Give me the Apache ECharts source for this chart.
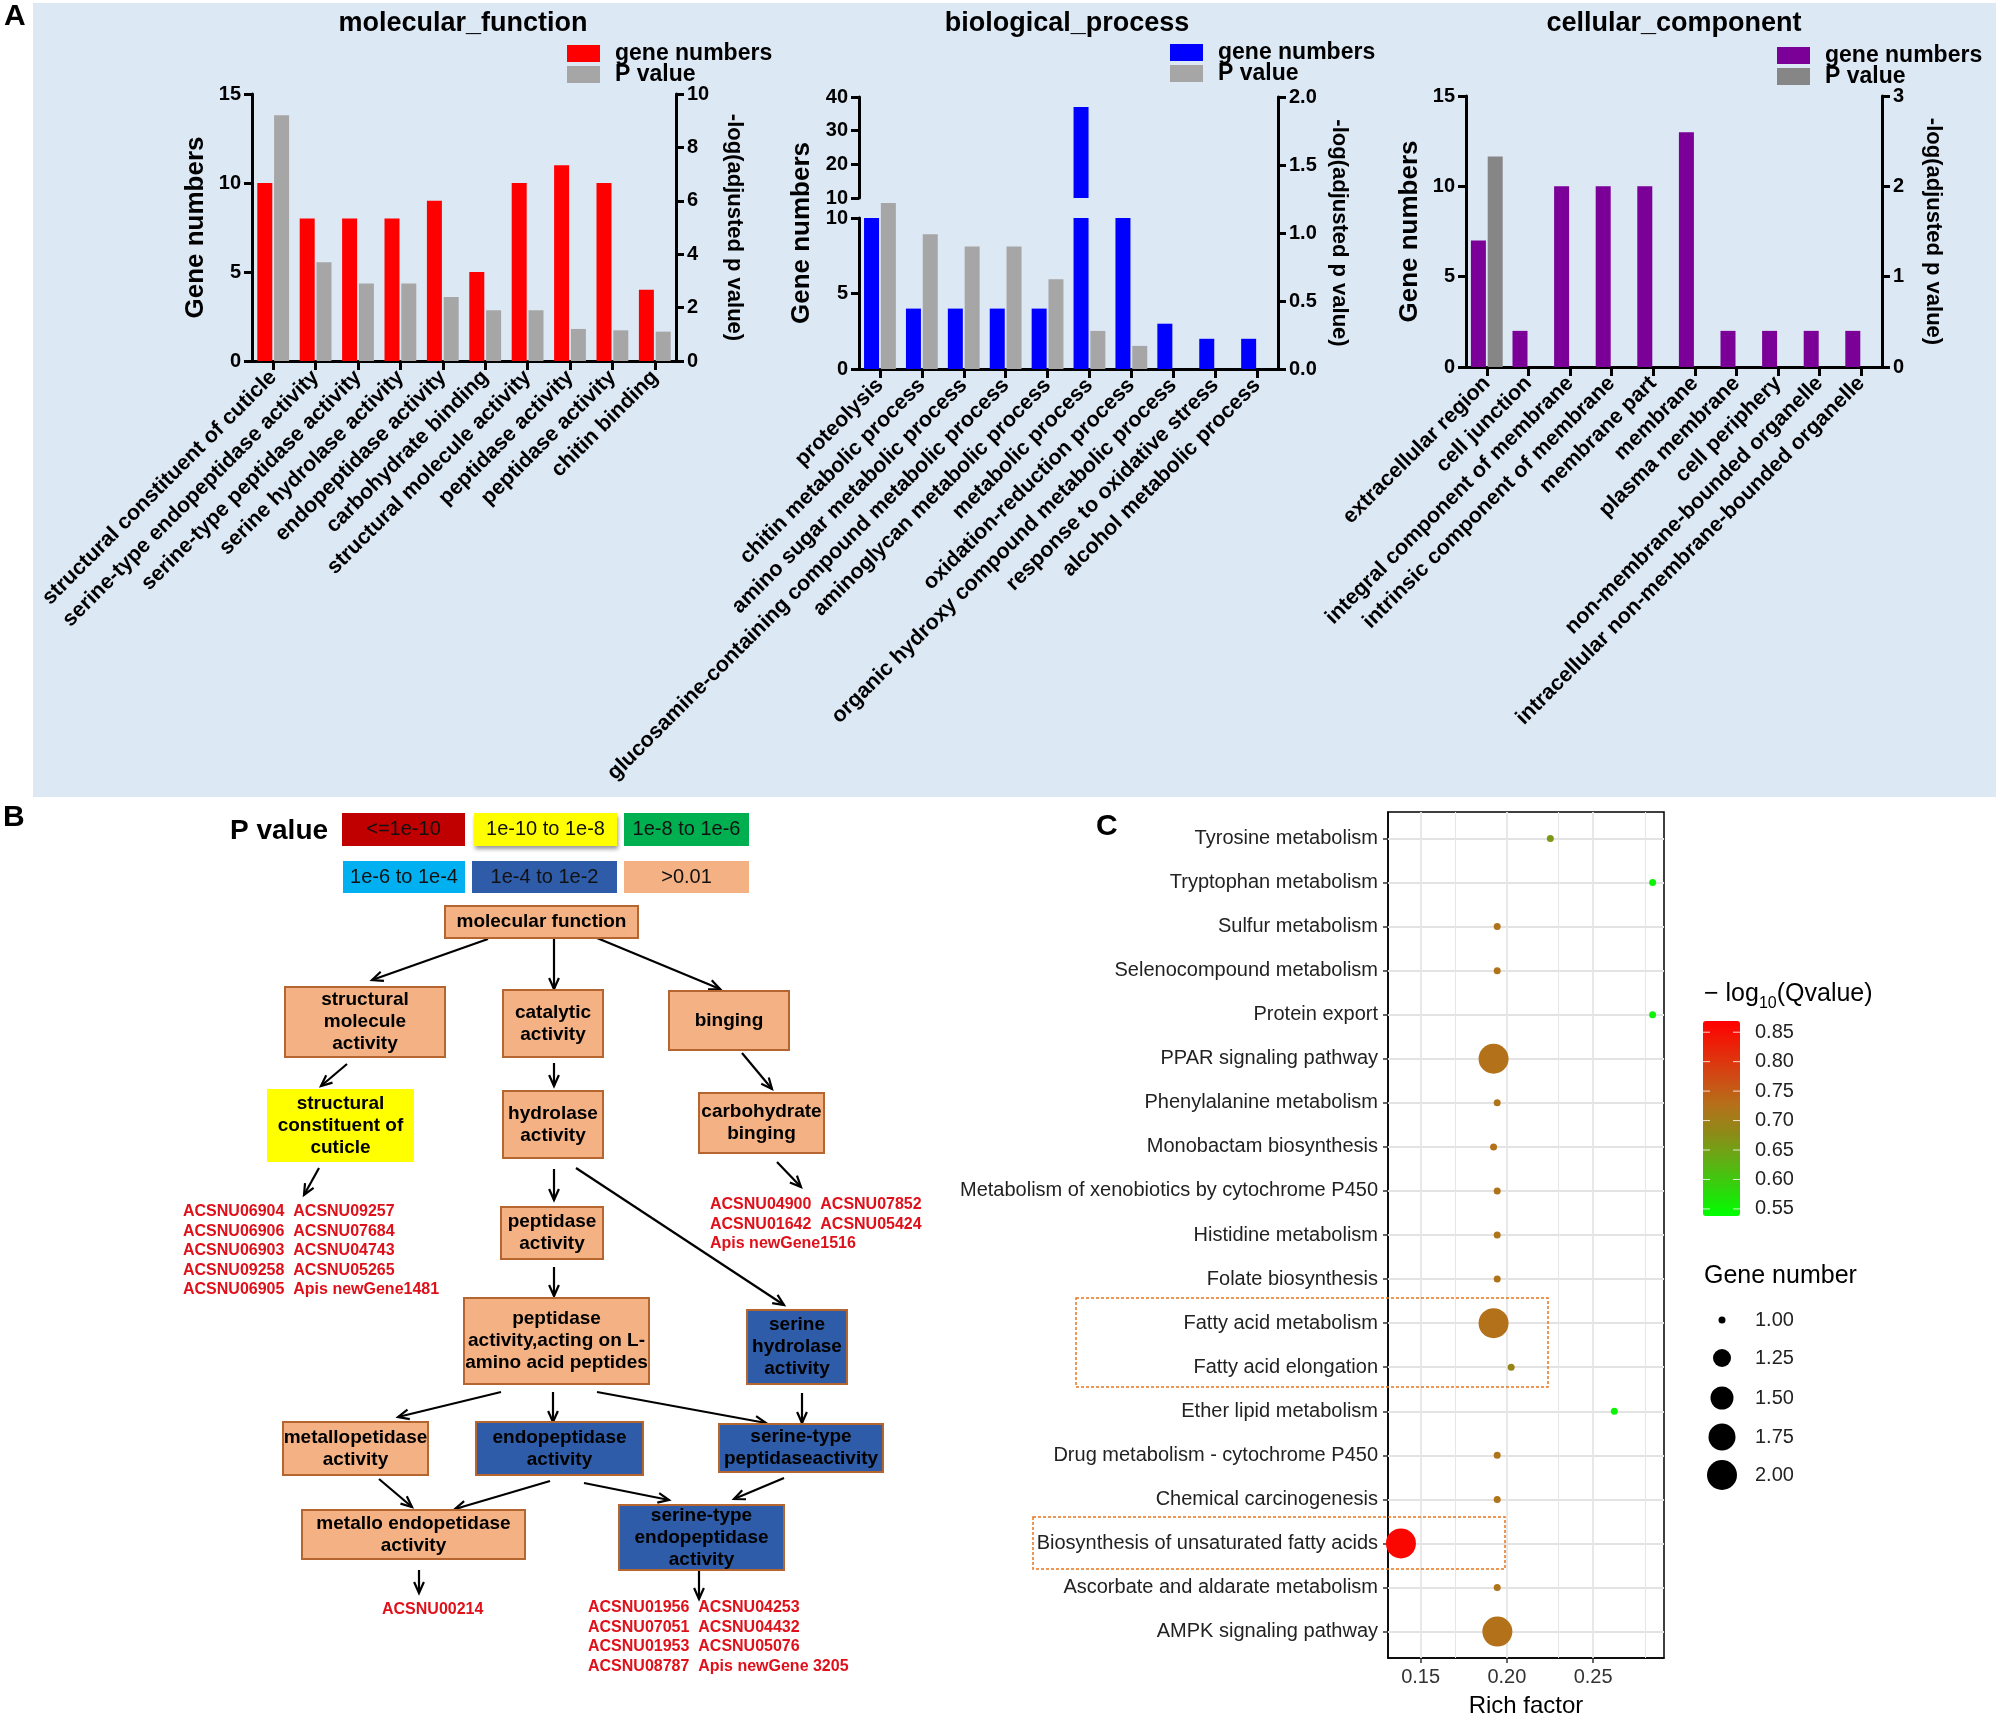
<!DOCTYPE html>
<html><head><meta charset="utf-8">
<script src="https://cdn.jsdelivr.net/npm/echarts@6/dist/echarts.min.js"></script>
<style>html,body{margin:0;padding:0;background:#fff}#c{width:1999px;height:1718px}</style>
</head><body><div id="c"></div>
<script>
// ================= DATA =================
// Panel A - molecular_function
const mfCategories = ['structural constituent of cuticle','serine-type endopeptidase activity','serine-type peptidase activity','serine hydrolase activity','endopeptidase activity','carbohydrate binding','structural molecule activity','peptidase activity','peptidase activity','chitin binding'];
const mfGeneNumbers = [10, 8, 8, 8, 9, 5, 10, 11, 10, 4];
const mfLogP = [9.2, 3.7, 2.9, 2.9, 2.4, 1.9, 1.9, 1.2, 1.15, 1.1];
// Panel A - biological_process
const bpCategories = ['proteolysis','chitin metabolic process','amino sugar metabolic process','glucosamine-containing compound metabolic process','aminoglycan metabolic process','metabolic process','oxidation-reduction process','organic hydroxy compound metabolic process','response to oxidative stress','alcohol metabolic process'];
const bpGeneNumbers = [10, 4, 4, 4, 4, 37, 10, 3, 2, 2];
const bpLogP = [1.22, 0.99, 0.90, 0.90, 0.66, 0.28, 0.17, 0, 0, 0];
const bpBreak = 10;
// Panel A - cellular_component
const ccCategories = ['extracellular region','cell junction','integral component of membrane','intrinsic component of membrane','membrane part','membrane','plasma membrane','cell periphery','non-membrane-bounded organelle','intracellular non-membrane-bounded organelle'];
const ccGeneNumbers = [7, 2, 10, 10, 10, 13, 2, 2, 2, 2];
const ccLogP = [2.33, 0, 0, 0, 0, 0, 0, 0, 0, 0];

// Panel B - GO tree
const pLegendLabels = ['<=1e-10','1e-10 to 1e-8','1e-8 to 1e-6','1e-6 to 1e-4','1e-4 to 1e-2','>0.01'];
const goTerms = ['molecular function','structural\nmolecule\nactivity','catalytic\nactivity','binging','structural\nconstituent of\ncuticle','hydrolase\nactivity','carbohydrate\nbinging','peptidase\nactivity','peptidase\nactivity,acting on L-\namino acid peptides','serine\nhydrolase\nactivity','metallopetidase\nactivity','endopeptidase\nactivity','serine-type\npeptidaseactivity','metallo endopetidase\nactivity','serine-type\nendopeptidase\nactivity'];
const goTermClass = [5, 5, 5, 5, 1, 5, 5, 5, 5, 4, 5, 4, 4, 5, 4];
const geneLists = [
  ['ACSNU06904  ACSNU09257','ACSNU06906  ACSNU07684','ACSNU06903  ACSNU04743','ACSNU09258  ACSNU05265','ACSNU06905  Apis newGene1481'],
  ['ACSNU04900  ACSNU07852','ACSNU01642  ACSNU05424','Apis newGene1516'],
  ['ACSNU00214'],
  ['ACSNU01956  ACSNU04253','ACSNU07051  ACSNU04432','ACSNU01953  ACSNU05076','ACSNU08787  Apis newGene 3205']
];

// Panel C - KEGG enrichment
const keggPathways = ['Tyrosine metabolism','Tryptophan metabolism','Sulfur metabolism','Selenocompound metabolism','Protein export','PPAR signaling pathway','Phenylalanine metabolism','Monobactam biosynthesis','Metabolism of xenobiotics by cytochrome P450','Histidine metabolism','Folate biosynthesis','Fatty acid metabolism','Fatty acid elongation','Ether lipid metabolism','Drug metabolism - cytochrome P450','Chemical carcinogenesis','Biosynthesis of unsaturated fatty acids','Ascorbate and aldarate metabolism','AMPK signaling pathway'];
const keggRichFactor = [0.2252, 0.2845, 0.1944, 0.1944, 0.2845, 0.1923, 0.1944, 0.1923, 0.1944, 0.1944, 0.1944, 0.1923, 0.2025, 0.2623, 0.1944, 0.1944, 0.1386, 0.1944, 0.1945];
const keggQ = [0.66, 0.55, 0.72, 0.72, 0.55, 0.725, 0.72, 0.725, 0.72, 0.72, 0.72, 0.725, 0.69, 0.55, 0.72, 0.72, 0.86, 0.72, 0.725];
const keggGeneNumber = [1, 1, 1, 1, 1, 2, 1, 1, 1, 1, 1, 2, 1, 1, 1, 1, 2, 1, 2];
const qTicks = [0.55, 0.60, 0.65, 0.70, 0.75, 0.80, 0.85];
const geneLegendValues = [1.00, 1.25, 1.50, 1.75, 2.00];
const richTicks = [0.15, 0.20, 0.25];
const richGrid = [0.15, 0.175, 0.20, 0.225, 0.25, 0.275];

// ================= LAYOUT / STYLE =================
const FONT = '"Liberation Sans", Arial, Helvetica, sans-serif';
const bold = (s) => ({fontFamily: FONT, fontWeight: 'bold', fontSize: s, color: '#000'});
const pLegendColors = ['#c00000','#ffff00','#00b050','#00b0f0','#2e5ca8','#f4b183'];
const pLegendLayout = [[403.5,829.5,123,33],[545.5,829.5,143,33],[686.5,829.5,125,33],[404,877,122,32],[544.5,877,145,32],[686.5,877,125,32]];
const goBoxLayout = [[541.5,922,193,32],[365,1022,160,70],[553,1023.5,100,67],[729,1020.5,120,59],[340.5,1125.5,147,73],[553,1124.5,100,67],[761.5,1123,125,60],[552,1233,102,52],[556.5,1341,185,86],[797,1347,100,74],[355.5,1448.5,145,53],[559.5,1448.5,167,53],[801,1448,164,48],[413.5,1534.5,223,49],[701.5,1537.5,165,65]];
const arrowLayout = [[488,939,372,980],[554,939,554,989],[597,938,720,989],[347,1064,321,1086],[554,1063,554,1086],[742,1053,772,1089],[319,1168,304,1195],[554,1169,554,1200],[576,1168,784,1305],[777,1162,801,1187],[554,1267,554,1296],[501,1392,398,1417],[553,1392,553,1422],[597,1392,766,1423],[802,1393,802,1423],[379,1479,412,1507],[550,1481,455,1509],[584,1483,669,1500],[784,1478,734,1499],[419,1570,419,1593],[699,1570,699,1599]];
const geneListLayout = [[183,1202],[710,1195],[382,1600],[588,1598]];
const sizeStops = [[1,7],[1.25,18],[1.5,23],[1.75,27],[2,30]];
function geneSize(g){
  for (let i = 1; i < sizeStops.length; i++) {
    if (g <= sizeStops[i][0]) { const [a, sa] = sizeStops[i-1], [b, sb] = sizeStops[i]; return sa + (sb - sa) * (g - a) / (b - a); }
  }
  return sizeStops[sizeStops.length-1][1];
}
const vmMin = 0.538, vmMax = 0.869, vmTop = 1021, vmLeft = 1703, vmW = 37, vmH = 195;
const pathIdx = keggPathways.map((p, i) => i);

// ================= AXES HELPERS =================
function catAxis(gridIndex, data, show) {
  return {gridIndex, type:'category', data, show: show !== false,
    axisLine:{show:true, onZero:false, lineStyle:{color:'#000', width:3}},
    axisTick:{show:true, alignWithLabel:true, length:9, lineStyle:{color:'#000', width:3}},
    axisLabel:Object.assign({interval:0, rotate:45, margin:13}, bold(21.5)),
    splitLine:{show:false}};
}
function valAxis(gridIndex, position, min, max, interval, extra) {
  return Object.assign({gridIndex, type:'value', position, min, max, interval,
    axisLine:{show:true, lineStyle:{color:'#000', width:3}},
    axisTick:{show:true, length:8, lineStyle:{color:'#000', width:3}},
    axisLabel:Object.assign({margin:11}, bold(20)),
    splitLine:{show:false}}, extra || {});
}
const leftName = (gap) => ({name:'Gene numbers', nameLocation:'middle', nameGap:gap, nameTextStyle:bold(26)});
const rightName = (gap) => ({name:'-log(adjusted p value)', nameLocation:'middle', nameGap:gap, nameRotate:-90, nameTextStyle:bold(22)});
function bar(name, x, y, data, color) {
  return {type:'bar', name, xAxisIndex:x, yAxisIndex:y, data, barWidth:15, barGap:'12%', itemStyle:{color}, silent:true};
}
function legendA(left, top, prefix) {
  return {left, top, orient:'vertical', padding:0, itemWidth:33, itemHeight:17, itemGap:-2, icon:'rect',
    data:[prefix+'|gene numbers', prefix+'|P value'], formatter:(n) => n.split('|')[1],
    selectedMode:false, textStyle:Object.assign({lineHeight:18, padding:[0,0,0,10]}, bold(23))};
}
const gridBase = {outerBoundsMode:'none', containLabel:false};

// ================= GRAPHIC =================
const g = [];
g.push({type:'rect', z:-10, shape:{x:33, y:3, width:1963, height:794}, style:{fill:'#dde8f5'}});
const txt = (x, y, text, style) => ({type:'text', x, y, style:Object.assign({text, fill:'#000', fontFamily:FONT, align:'left', verticalAlign:'middle'}, style)});
g.push(txt(4, 17, 'A', {fontSize:30, fontWeight:'bold'}));
g.push(txt(3, 818, 'B', {fontSize:30, fontWeight:'bold'}));
g.push(txt(1096, 827, 'C', {fontSize:30, fontWeight:'bold'}));
g.push(txt(463, 24, 'molecular_function', {fontSize:27, fontWeight:'bold', align:'center'}));
g.push(txt(1067, 24, 'biological_process', {fontSize:27, fontWeight:'bold', align:'center'}));
g.push(txt(1674, 24, 'cellular_component', {fontSize:27, fontWeight:'bold', align:'center'}));
g.push(txt(230, 831, 'P value', {fontSize:28, fontWeight:'bold'}));
// dashed highlight boxes (panel C)
g.push({type:'rect', z:20, shape:{x:1076, y:1298, width:472, height:89}, style:{fill:null, stroke:'#e8741e', lineWidth:1.5, lineDash:[3,2]}});
g.push({type:'rect', z:20, shape:{x:1033, y:1517, width:472, height:52}, style:{fill:null, stroke:'#e8741e', lineWidth:1.5, lineDash:[3,2]}});
// colour bar title + ticks
g.push({type:'text', x:1704, y:994, style:{text:'{a|\u2212 log}{b|10}{a|(Qvalue)}', align:'left', verticalAlign:'middle',
  rich:{a:{fontSize:25, fontFamily:FONT, fill:'#000'}, b:{fontSize:16, fontFamily:FONT, fill:'#000', padding:[19,0,0,0]}}}});
qTicks.forEach(v => {
  const y = vmTop + (vmMax - v) / (vmMax - vmMin) * vmH;
  g.push(txt(1755, y, v.toFixed(2), {fontSize:20, fill:'#222'}));
  g.push({type:'line', z:20, shape:{x1:vmLeft, y1:y, x2:vmLeft+7, y2:y}, style:{stroke:'rgba(255,255,255,0.8)', lineWidth:1}});
  g.push({type:'line', z:20, shape:{x1:vmLeft+vmW-7, y1:y, x2:vmLeft+vmW, y2:y}, style:{stroke:'rgba(255,255,255,0.8)', lineWidth:1}});
});
// size legend
g.push(txt(1704, 1276, 'Gene number', {fontSize:25}));
geneLegendValues.forEach((v, i) => {
  const y = [1320, 1358, 1398, 1437, 1475][i];
  g.push({type:'circle', shape:{cx:1722, cy:y, r:geneSize(v)/2}, style:{fill:'#000'}});
  g.push(txt(1755, y, v.toFixed(2), {fontSize:20, fill:'#222'}));
});

// ================= OPTION =================
const option = {
  animation:false,
  backgroundColor:'#ffffff',
  textStyle:{fontFamily:FONT},
  legend:[legendA(567, 42, 'MF'), legendA(1170, 41, 'BP'), legendA(1777, 44, 'CC')],
  grid:[
    Object.assign({left:252, top:94, width:424, height:267}, gridBase),   // 0 MF
    Object.assign({left:859, top:218, width:419, height:151}, gridBase),  // 1 BP lower
    Object.assign({left:859, top:97, width:419, height:101}, gridBase),   // 2 BP upper
    Object.assign({left:859, top:97, width:419, height:272}, gridBase),   // 3 BP overlay
    Object.assign({left:1466, top:96, width:416, height:271}, gridBase),  // 4 CC
    Object.assign({left:0, top:0, width:1999, height:1718}, gridBase),    // 5 panel B canvas
    Object.assign({left:1388, top:812, width:276, height:846, show:true, backgroundColor:'#fff', borderColor:'#000', borderWidth:1.5}, gridBase) // 6 C
  ],
  xAxis:[
    catAxis(0, mfCategories),
    catAxis(1, bpCategories),
    catAxis(2, bpCategories, false),
    catAxis(3, bpCategories, false),
    catAxis(4, ccCategories),
    {gridIndex:5, type:'value', min:0, max:1999, show:false},
    {gridIndex:6, type:'value', min:0.1311, max:0.2911, splitNumber:3,
      axisLine:{show:true, onZero:false, lineStyle:{color:'#000', width:1.5}},
      axisTick:{show:true, length:5, customValues:richTicks, lineStyle:{color:'#333', width:1.5}},
      axisLabel:{fontSize:20, color:'#333', fontFamily:FONT, margin:9, customValues:richTicks,
        formatter:(v) => (Math.abs(v*20 - Math.round(v*20)) < 1e-6 ? v.toFixed(2) : '')},
      splitLine:{show:false},
      name:'Rich factor', nameLocation:'middle', nameGap:36, nameTextStyle:{fontSize:24, color:'#000', fontFamily:FONT}}
  ],
  yAxis:[
    valAxis(0, 'left', 0, 15, 5, leftName(43)),
    valAxis(0, 'right', 0, 10, 2, rightName(47)),
    valAxis(1, 'left', 0, bpBreak, 5),
    valAxis(2, 'left', bpBreak, 40, 10),
    Object.assign({gridIndex:3, type:'value', position:'left', min:0, max:2, axisLine:{show:false}, axisTick:{show:false}, axisLabel:{show:false}, splitLine:{show:false}}, leftName(44)),
    valAxis(3, 'right', 0, 2, 0.5, Object.assign({axisLabel:Object.assign({margin:11, formatter:(v) => v.toFixed(1)}, bold(20))}, rightName(50))),
    valAxis(4, 'left', 0, 15, 5, leftName(43)),
    valAxis(4, 'right', 0, 3, 1, rightName(40)),
    {gridIndex:5, type:'value', min:0, max:1718, inverse:true, show:false},
    {gridIndex:6, type:'value', inverse:true, min:-0.6, max:keggPathways.length - 0.4,
      axisLine:{show:true, onZero:false, lineStyle:{color:'#000', width:1.5}},
      axisTick:{show:true, length:5, customValues:pathIdx, lineStyle:{color:'#333', width:1.5}},
      axisLabel:{fontSize:20, color:'#222', fontFamily:FONT, margin:10, customValues:pathIdx,
        formatter:(v) => (Math.abs(v - Math.round(v)) < 1e-6 && keggPathways[Math.round(v)]) || ''},
      splitLine:{show:false}}
  ],
  visualMap:[{type:'continuous', seriesIndex:14, dimension:2, min:vmMin, max:vmMax, calculable:false, hoverLink:false,
    orient:'vertical', left:vmLeft, top:vmTop, itemWidth:vmW, itemHeight:vmH, padding:0, text:null, showLabel:false,
    inRange:{color:['#00ff00','#30d40c','#62ae14','#8f8a18','#b5701a','#d04a14','#e8260a','#ff0000']}}],
  graphic:{elements:g},
  series:[
    bar('MF|gene numbers', 0, 0, mfGeneNumbers, '#ff0000'),
    bar('MF|P value', 0, 1, mfLogP, '#a6a6a6'),
    bar('BP|gene numbers', 1, 2, bpGeneNumbers, '#0000ff'),
    bar('bp-slot-a', 1, 2, bpGeneNumbers.map(() => '-'), 'transparent'),
    bar('BP|gene numbers', 2, 3, bpGeneNumbers.map(v => v > bpBreak ? v : '-'), '#0000ff'),
    bar('bp-slot-b', 2, 3, bpGeneNumbers.map(() => '-'), 'transparent'),
    bar('bp-slot-c', 3, 5, bpLogP.map(() => '-'), 'transparent'),
    bar('BP|P value', 3, 5, bpLogP, '#a6a6a6'),
    bar('CC|gene numbers', 4, 6, ccGeneNumbers, '#7a0098'),
    bar('CC|P value', 4, 7, ccLogP, '#868686'),
    // 10 panel B colour legend
    {type:'custom', xAxisIndex:5, yAxisIndex:8, silent:true, clip:false,
      data:pLegendLayout.map(b => [b[0], b[1]]),
      renderItem:(params, api) => {
        const i = params.dataIndex, b = pLegendLayout[i];
        const p0 = api.coord([b[0]-b[2]/2, b[1]-b[3]/2]), p1 = api.coord([b[0]+b[2]/2, b[1]+b[3]/2]);
        const st = {fill:pLegendColors[i]};
        if (i === 1) { st.shadowBlur = 4; st.shadowOffsetY = 3; st.shadowOffsetX = 1; st.shadowColor = 'rgba(0,0,0,0.4)'; }
        return {type:'rect', shape:{x:p0[0], y:p0[1], width:p1[0]-p0[0], height:p1[1]-p0[1]}, style:st,
          textContent:{style:{text:pLegendLabels[i], fontSize:20, fontFamily:FONT, fill:'#111'}}, textConfig:{position:'inside'}};
      }},
    // 11 GO boxes
    {type:'custom', xAxisIndex:5, yAxisIndex:8, silent:true, clip:false, z:4,
      data:goBoxLayout.map(b => [b[0], b[1]]),
      renderItem:(params, api) => {
        const i = params.dataIndex, b = goBoxLayout[i], c = goTermClass[i];
        const p0 = api.coord([b[0]-b[2]/2, b[1]-b[3]/2]), p1 = api.coord([b[0]+b[2]/2, b[1]+b[3]/2]);
        return {type:'rect', shape:{x:p0[0], y:p0[1], width:p1[0]-p0[0], height:p1[1]-p0[1]},
          style:{fill:pLegendColors[c], stroke: c === 1 ? null : '#b5652f', lineWidth:2},
          textContent:{style:{text:goTerms[i], fontSize:19, fontWeight:'bold', fontFamily:FONT, fill:'#000', lineHeight:22, align:'center'}},
          textConfig:{position:'inside'}};
      }},
    // 12 arrows
    {type:'custom', xAxisIndex:5, yAxisIndex:8, silent:true, clip:false, z:3,
      data:arrowLayout.map(a => [a[0], a[1]]),
      renderItem:(params, api) => {
        const a = arrowLayout[params.dataIndex];
        const s = api.coord([a[0], a[1]]), e = api.coord([a[2], a[3]]);
        const ang = Math.atan2(e[1]-s[1], e[0]-s[0]), L = 12, sp = 0.42;
        const h1 = [e[0] - L*Math.cos(ang - sp), e[1] - L*Math.sin(ang - sp)];
        const h2 = [e[0] - L*Math.cos(ang + sp), e[1] - L*Math.sin(ang + sp)];
        return {type:'group', children:[
          {type:'line', shape:{x1:s[0], y1:s[1], x2:e[0], y2:e[1]}, style:{stroke:'#000', lineWidth:2.2}},
          {type:'polyline', shape:{points:[h1, e, h2]}, style:{stroke:'#000', lineWidth:2.2, fill:null}}
        ]};
      }},
    // 13 gene lists
    {type:'custom', xAxisIndex:5, yAxisIndex:8, silent:true, clip:false,
      data:geneListLayout.map(p => [p[0], p[1]]),
      renderItem:(params, api) => {
        const p = api.coord(geneListLayout[params.dataIndex]);
        return {type:'text', x:p[0], y:p[1], style:{text:geneLists[params.dataIndex].join('\n'), fontSize:16, fontWeight:'bold', fontFamily:FONT, fill:'#e0101a', lineHeight:19.5, align:'left', verticalAlign:'top'}};
      }},
    // 14 KEGG bubbles
    {type:'scatter', xAxisIndex:6, yAxisIndex:9, z:10, silent:true,
      data:keggPathways.map((p, i) => [keggRichFactor[i], i, keggQ[i], keggGeneNumber[i]]),
      encode:{x:0, y:1},
      symbolSize:(v) => geneSize(v[3]),
      itemStyle:{opacity:1},
      markLine:{silent:true, z:1, symbol:['none','none'], label:{show:false}, animation:false,
        data:[].concat(
          pathIdx.map(i => ({yAxis:i, lineStyle:{color:'#e3e3e3', width:2, type:'solid'}})),
          richGrid.map((v, k) => ({xAxis:v, lineStyle:{color:'#e6e6e6', width: k % 2 === 0 ? 1.8 : 1, type:'solid'}}))
        )}}
  ]
};
const chart = echarts.init(document.getElementById('c'), null, {renderer:'canvas'});
chart.setOption(option);
</script></body></html>
